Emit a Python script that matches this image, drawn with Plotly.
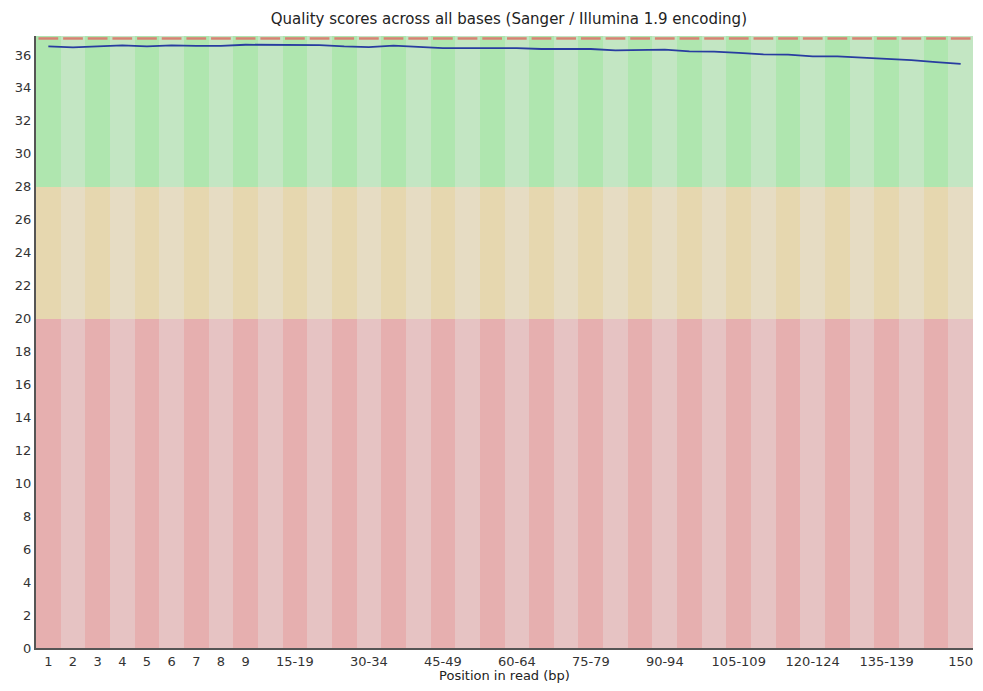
import plotly.graph_objects as go

positions = ["1", "2", "3", "4", "5", "6", "7", "8", "9",
             "10-14", "15-19", "20-24", "25-29", "30-34", "35-39", "40-44",
             "45-49", "50-54", "55-59", "60-64", "65-69", "70-74", "75-79",
             "80-84", "85-89", "90-94", "95-99", "100-104", "105-109",
             "110-114", "115-119", "120-124", "125-129", "130-134",
             "135-139", "140-144", "145-149", "150"]

mean_quality = [36.52, 36.46, 36.52, 36.58, 36.52, 36.58, 36.55, 36.55, 36.62,
                 36.62, 36.62, 36.60, 36.52, 36.48, 36.56, 36.48,
                 36.42, 36.42, 36.42, 36.42, 36.36, 36.36, 36.36,
                 36.28, 36.28, 36.32, 36.22, 36.20, 36.12,
                 36.04, 36.02, 35.91, 35.91, 35.85,
                 35.77, 35.69, 35.57, 35.46]

median_quality = [37] * len(positions)

shown_ticks = ["1", "2", "3", "4", "5", "6", "7", "8", "9", "15-19", "30-34",
               "45-49", "60-64", "75-79", "90-94", "105-109", "120-124",
               "135-139", "150"]

y_ticks = list(range(0, 37, 2))
y_max = 37.15

# quality bands: (lower, upper, dark colour, light colour)
bands = [
    (0, 20, "rgb(230,175,175)", "rgb(230,195,195)"),
    (20, 28, "rgb(230,215,175)", "rgb(230,220,195)"),
    (28, y_max, "rgb(175,230,175)", "rgb(195,230,195)"),
]

idx = list(range(len(positions)))
fig = go.Figure()

for lo, hi, dark, light in bands:
    fig.add_trace(go.Bar(
        x=idx, y=[hi - lo] * len(idx), base=[lo] * len(idx), width=1.0,
        marker=dict(color=[dark if i % 2 == 0 else light for i in idx], line=dict(width=0)),
        hoverinfo="skip", showlegend=False))

# median segments
mx, my = [], []
for i, m in zip(idx, median_quality):
    mx += [i - 0.4, i + 0.4, None]
    my += [m, m, None]
fig.add_trace(go.Scatter(x=mx, y=my, mode="lines",
                         line=dict(color="rgb(215,130,115)", width=2.5),
                         showlegend=False, hoverinfo="skip"))

fig.add_trace(go.Scatter(x=idx, y=mean_quality, mode="lines",
                         line=dict(color="rgb(40,60,160)", width=1.8),
                         showlegend=False))

fig.update_layout(
    width=967, height=675,
    margin=dict(l=28, r=2, t=28, b=35),
    paper_bgcolor="white", plot_bgcolor="white",
    barmode="overlay", bargap=0,
    font=dict(family="DejaVu Sans", size=13, color="#333333"),
    title=dict(text="Quality scores across all bases (Sanger / Illumina 1.9 encoding)",
               x=0.518, xanchor="center", y=0.984, yanchor="middle",
               font=dict(size=15, color="#222222")),
    xaxis=dict(range=[-0.5, len(positions) - 0.5],
               tickvals=[positions.index(t) for t in shown_ticks], ticktext=shown_ticks,
               showgrid=False, zeroline=False, showline=True, linecolor="#555555",
               linewidth=2, ticks="", tickfont=dict(size=13, color="#333333"),
               title=dict(text="Position in read (bp)", standoff=4,
                          font=dict(size=13, color="#222222"))),
    yaxis=dict(range=[0, y_max], tickvals=y_ticks, showgrid=False, zeroline=False,
               showline=True, linecolor="#555555", linewidth=2, ticks="",
               tickfont=dict(size=13, color="#333333")),
)

fig.write_html("out.html")
